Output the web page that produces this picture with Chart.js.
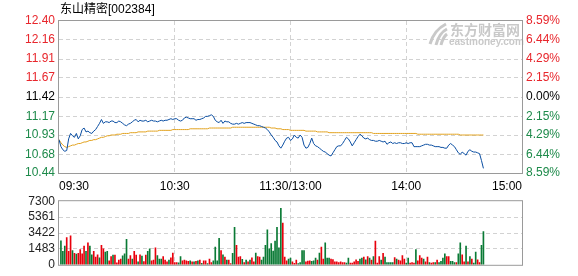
<!DOCTYPE html>
<html>
<head>
<meta charset="utf-8">
<script src="https://cdn.jsdelivr.net/npm/chart.js@4.4.0/dist/chart.umd.min.js"></script>
<style>
  html, body { margin: 0; padding: 0; background: #fff; }
  #wrap { position: relative; width: 578px; height: 276px; }
  #volBox { position: absolute; left: 0; top: 190px; }
  #priceBox { position: absolute; left: 0; top: 0; }
</style>
</head>
<body>
<div id="wrap">
  <div id="volBox"><canvas id="volCanvas" width="578" height="86"></canvas></div>
  <div id="priceBox"><canvas id="priceCanvas" width="578" height="200"></canvas></div>
</div>
<script>
const title = "东山精密[002384]";
const prevClose = 11.42;

// minutes since 09:30 (lunch break removed)
const timeTicks = [0, 60, 120, 180, 240];
const timeLabels = ["09:30", "10:30", "11:30/13:00", "14:00", "15:00"];

const priceTicks = [10.44, 10.68, 10.93, 11.17, 11.42, 11.67, 11.91, 12.16, 12.40];
const pctLabels = ["8.59%", "6.44%", "4.29%", "2.15%", "0.00%", "2.15%", "4.29%", "6.44%", "8.59%"];

const volTicks = [0, 1825, 3650, 5475, 7300];
const volLabels = ["0", "1483", "3422", "5361", "7300"];

// price per minute, from 09:30
const price = [
  10.87, 10.78, 10.74, 10.72, 10.73, 10.88, 10.95, 10.92, 10.90, 10.95,
  10.88, 10.92, 11.00, 11.02, 10.97, 10.98, 10.96, 10.95, 10.98, 11.00,
  11.04, 11.08, 11.13, 11.08, 11.10, 11.10, 11.09, 11.11, 11.11, 11.09,
  11.09, 11.11, 11.10, 11.08, 11.06, 11.05, 11.07, 11.08, 11.10, 11.12,
  11.13, 11.10, 11.12, 11.11, 11.11, 11.12, 11.10, 11.11, 11.12, 11.11,
  11.11, 11.10, 11.11, 11.12, 11.11, 11.12, 11.12, 11.13, 11.14, 11.13,
  11.14, 11.14, 11.12, 11.11, 11.12, 11.15, 11.16, 11.15, 11.14, 11.14,
  11.14, 11.12, 11.13, 11.13, 11.14, 11.15, 11.17, 11.17, 11.18, 11.19,
  11.17, 11.12, 11.10, 11.09, 11.12, 11.08, 11.11, 11.10, 11.10, 11.08,
  11.07, 11.07, 11.08, 11.07, 11.08, 11.09, 11.08, 11.09, 11.09, 11.09,
  11.08, 11.07, 11.06, 11.05, 11.05, 11.04, 11.03, 11.02, 11.00, 10.97,
  10.93, 10.90, 10.86, 10.84, 10.79, 10.76, 10.80, 10.85, 10.89, 10.90,
  10.86, 10.88, 10.93, 10.90, 10.89, 10.93, 10.90, 10.80, 10.76, 10.77,
  10.82, 10.89, 10.82, 10.79, 10.78, 10.76, 10.74, 10.72, 10.71, 10.69,
  10.67, 10.66, 10.70, 10.74, 10.78, 10.79, 10.79, 10.82, 10.86, 10.90,
  10.88, 10.84, 10.79, 10.83, 10.87, 10.91, 10.94, 10.92, 10.89, 10.88,
  10.89, 10.87, 10.86, 10.86, 10.85, 10.85, 10.86, 10.85, 10.84, 10.85,
  10.81, 10.83, 10.84, 10.82, 10.83, 10.82, 10.83, 10.83, 10.82, 10.82,
  10.83, 10.82, 10.83, 10.83, 10.78, 10.78, 10.78, 10.78, 10.79, 10.80,
  10.81, 10.81, 10.80, 10.80, 10.79, 10.78, 10.78, 10.78, 10.77, 10.77,
  10.76, 10.76, 10.80, 10.82, 10.80, 10.78, 10.74, 10.70, 10.68, 10.71,
  10.69, 10.67, 10.72, 10.74, 10.72, 10.71, 10.71, 10.70, 10.69, 10.60, 10.50
];

// average price per minute
const avgPrice = [
  10.87, 10.83, 10.80, 10.78, 10.77, 10.78, 10.79, 10.80, 10.80, 10.81,
  10.82, 10.82, 10.83, 10.84, 10.84, 10.85, 10.86, 10.86, 10.87, 10.87,
  10.88, 10.89, 10.90, 10.90, 10.91, 10.92, 10.92, 10.93, 10.93, 10.93,
  10.94, 10.94, 10.94, 10.95, 10.95, 10.95, 10.95, 10.96, 10.96, 10.96,
  10.96, 10.97, 10.97, 10.97, 10.97, 10.97, 10.98, 10.98, 10.98, 10.98,
  10.98, 10.98, 10.99, 10.99, 10.99, 10.99, 10.99, 10.99, 10.99, 11.00,
  11.00, 11.00, 11.00, 11.00, 11.00, 11.00, 11.00, 11.00, 11.01, 11.01,
  11.01, 11.01, 11.01, 11.01, 11.01, 11.01, 11.01, 11.01, 11.02, 11.02,
  11.02, 11.02, 11.02, 11.02, 11.02, 11.02, 11.02, 11.02, 11.02, 11.02,
  11.03, 11.03, 11.03, 11.03, 11.03, 11.03, 11.03, 11.03, 11.03, 11.03,
  11.03, 11.03, 11.03, 11.03, 11.03, 11.03, 11.03, 11.03, 11.03, 11.03,
  11.02, 11.02, 11.02, 11.01, 11.01, 11.01, 11.00, 11.00, 11.00, 11.00,
  10.99, 10.99, 10.99, 10.99, 10.99, 10.99, 10.99, 10.99, 10.98, 10.98,
  10.98, 10.98, 10.98, 10.98, 10.97, 10.97, 10.97, 10.97, 10.97, 10.97,
  10.96, 10.96, 10.96, 10.96, 10.96, 10.96, 10.96, 10.96, 10.96, 10.96,
  10.96, 10.96, 10.96, 10.96, 10.96, 10.96, 10.96, 10.96, 10.96, 10.96,
  10.96, 10.96, 10.96, 10.95, 10.95, 10.95, 10.95, 10.95, 10.95, 10.95,
  10.95, 10.95, 10.95, 10.95, 10.95, 10.95, 10.95, 10.95, 10.95, 10.95,
  10.95, 10.95, 10.95, 10.95, 10.95, 10.95, 10.94, 10.94, 10.94, 10.94,
  10.94, 10.94, 10.94, 10.94, 10.94, 10.94, 10.94, 10.94, 10.94, 10.94,
  10.94, 10.94, 10.94, 10.94, 10.94, 10.94, 10.94, 10.94, 10.93, 10.93,
  10.93, 10.93, 10.93, 10.93, 10.93, 10.93, 10.93, 10.93, 10.93, 10.93, 10.93
];

// volume per minute, from 09:31
const volume = [
  2760, 1550, 2140, 3125, 1550, 3320, 1645, 1316, 1217, 1316,
  1744, 1250, 2140, 1550, 2530, 2140, 1150, 1550, 890, 1150,
  790, 2240, 1840, 1450, 1550, 460, 950, 1120, 1120, 230,
  530, 660, 1020, 1250, 2930, 660, 1050, 660, 1550, 1120,
  330, 1150, 990, 360, 1120, 1550, 1840, 460, 530, 1940,
  1050, 660, 660, 950, 530, 330, 530, 790, 1350, 260,
  260, 230, 950, 460, 530, 460, 395, 460, 330, 330,
  395, 460, 530, 165, 460, 460, 130, 660, 260, 460,
  2040, 460, 3030, 1645, 1150, 890, 530, 530, 130, 1316,
  4310, 2240, 890, 950, 625, 260, 530, 330, 530, 790,
  330, 1350, 950, 890, 530, 890, 2240, 4010, 1840, 2430,
  1580, 2730, 4310, 1940, 6480, 4800, 890, 460, 660, 760,
  330, 165, 530, 130, 260, 1645, 1645, 330, 430, 460,
  395, 460, 760, 530, 1350, 2040, 660, 2530, 760, 760,
  660, 590, 330, 330, 260, 330, 260, 260, 200, 760,
  200, 200, 330, 560, 395, 660, 760, 890, 560, 950,
  760, 530, 950, 2730, 200, 950, 530, 1316, 890, 260,
  260, 260, 260, 820, 660, 530, 460, 1050, 660, 200,
  760, 200, 260, 200, 1740, 460, 1050, 760, 660, 330,
  890, 260, 200, 260, 260, 530, 260, 395, 760, 1250,
  950, 950, 395, 395, 260, 260, 1250, 2530, 1150, 330,
  2140, 330, 950, 660, 200, 1450, 560, 260, 2240, 3820
];
// bar colour per minute: r = up (red), g = down (green)
const volDir = [
  "gggrrrgrgr", "rrrgrggrrr", "grrggrrgrr", "rrgggrrgrr", "grgrrggrrr",
  "gggrrrgrrr", "rggrrrrgrg", "rgrgrrgrrg", "gggrgrgrrg", "grrrgrgrgr",
  "rgrrgggggg", "gggggrrrgg", "rrrggggrrr", "gggrgrrggg", "rrrrrrrrgg",
  "rrrrrggrgr", "grgrrrgrgg", "gggrgrrrrg", "grrrgrrrgr", "rgrrgrgggg",
  "rrgggrggrr", "grgrggrrgg"
].join("");

const RED = "#e8262c";
const GREEN = "#1d8a4a";
const UPBAR = "#e8000c";
const DOWNBAR = "#0a7a35";
const GRID = "#d2d2d2";
const FRAME = "#9a9a9a";

Chart.defaults.font.family = "'Liberation Sans', Arial, 'Noto Sans CJK SC', sans-serif";
Chart.defaults.font.size = 12;

const framePlugin = {
  id: "frame",
  afterDraw(chart) {
    const { ctx, chartArea: a } = chart;
    ctx.save();
    ctx.strokeStyle = FRAME;
    ctx.lineWidth = 1;
    ctx.strokeRect(a.left - 0.5, a.top - 0.5, a.right - a.left + 1, a.bottom - a.top + 1);
    ctx.restore();
  }
};

const titlePlugin = {
  id: "titleText",
  beforeDatasetsDraw(chart) {
    const ctx = chart.ctx;
    ctx.save();
    // watermark
    ctx.fillStyle = "#c9c9c9";
    ctx.strokeStyle = "#c9c9c9";
    ctx.lineWidth = 3;
    ctx.beginPath();
    ctx.moveTo(430, 44); ctx.quadraticCurveTo(434, 30, 446, 24);
    ctx.moveTo(436, 45); ctx.quadraticCurveTo(439, 33, 447, 29);
    ctx.moveTo(441, 45); ctx.quadraticCurveTo(443, 37, 447, 34);
    ctx.stroke();
    ctx.textBaseline = "middle";
    ctx.font = "bold 14px 'Noto Sans CJK SC', sans-serif";
    ctx.fillText("东方财富网", 450, 30);
    ctx.font = "bold 10px 'Liberation Sans', Arial, sans-serif";
    ctx.fillText("eastmoney.com", 449, 42);
    // title
    ctx.fillStyle = "#000";
    ctx.font = "12px 'Liberation Sans', 'Noto Sans CJK SC', sans-serif";
    ctx.fillText(title, 60, 10);
    ctx.restore();
  }
};

function edgeGrid(ticks) {
  return (ctx) => {
    if (!ctx.tick) return GRID;
    const v = ctx.tick.value;
    return (v === ticks[0] || v === ticks[ticks.length - 1]) ? "rgba(0,0,0,0)" : GRID;
  };
}

function tickColor(ctx) {
  const v = priceTicks[ctx.index];
  if (v > prevClose) return RED;
  if (v < prevClose) return GREEN;
  return "#000";
}

new Chart(document.getElementById("priceCanvas"), {
  type: "line",
  data: {
    datasets: [
      {
        data: price.map((v, i) => ({ x: i, y: v })),
        borderColor: "#0a4ea2",
        borderWidth: 1,
        pointRadius: 0,
        tension: 0
      },
      {
        data: avgPrice.map((v, i) => ({ x: i, y: v })),
        borderColor: "#e2a21e",
        borderWidth: 1,
        pointRadius: 0,
        tension: 0
      }
    ]
  },
  options: {
    responsive: false,
    animation: false,
    devicePixelRatio: 1,
    layout: { padding: { top: 21, left: 0, right: 0, bottom: 0 } },
    plugins: { legend: { display: false }, tooltip: { enabled: false } },
    scales: {
      x: {
        type: "linear",
        min: 0,
        max: 240,
        afterBuildTicks: (s) => { s.ticks = timeTicks.map((v) => ({ value: v })); },
        afterFit: (s) => { s.height = 27; },
        ticks: {
          callback: (v, i) => timeLabels[i],
          align: "inner",
          maxRotation: 0,
          autoSkip: false,
          color: "#000",
          padding: 6
        },
        grid: { color: edgeGrid(timeTicks), drawTicks: false },
        border: { display: false, dash: [4, 3] }
      },
      y: {
        type: "linear",
        position: "left",
        min: 10.44,
        max: 12.40,
        afterBuildTicks: (s) => { s.ticks = priceTicks.map((v) => ({ value: v })); },
        afterFit: (s) => { s.width = 59; },
        ticks: {
          callback: (v, i) => priceTicks[i].toFixed(2),
          color: tickColor,
          autoSkip: false,
          padding: 4
        },
        grid: { color: edgeGrid(priceTicks), drawTicks: false },
        border: { display: false, dash: [4, 3] }
      },
      y1: {
        type: "linear",
        position: "right",
        min: 10.44,
        max: 12.40,
        afterBuildTicks: (s) => { s.ticks = priceTicks.map((v) => ({ value: v })); },
        afterFit: (s) => { s.width = 56; },
        ticks: {
          callback: (v, i) => pctLabels[i],
          color: tickColor,
          autoSkip: false,
          padding: 4
        },
        grid: { display: false, drawTicks: false },
        border: { display: false }
      }
    }
  },
  plugins: [titlePlugin, framePlugin]
});

new Chart(document.getElementById("volCanvas"), {
  type: "bar",
  data: {
    datasets: [
      {
        data: volume.map((v, i) => ({ x: i + 1, y: v })),
        backgroundColor: volume.map((v, i) => (volDir[i] === "r" ? UPBAR : DOWNBAR)),
        barThickness: 1,
        borderWidth: 0
      }
    ]
  },
  options: {
    responsive: false,
    animation: false,
    devicePixelRatio: 1,
    layout: { padding: { top: 7, left: 0, right: 56, bottom: 5 } },
    plugins: { legend: { display: false }, tooltip: { enabled: false } },
    scales: {
      x: {
        type: "linear",
        min: 0,
        max: 240,
        offset: false,
        afterBuildTicks: (s) => { s.ticks = timeTicks.map((v) => ({ value: v })); },
        afterFit: (s) => { s.height = 0; },
        ticks: { display: false },
        grid: { color: edgeGrid(timeTicks), drawTicks: false, offset: false },
        border: { display: false, dash: [4, 3] }
      },
      y: {
        type: "linear",
        min: 0,
        max: 7300,
        afterBuildTicks: (s) => { s.ticks = volTicks.map((v) => ({ value: v })); },
        afterFit: (s) => { s.width = 59; },
        ticks: {
          callback: (v, i) => volLabels[i],
          color: "#222",
          autoSkip: false,
          padding: 4
        },
        grid: { color: edgeGrid(volTicks), drawTicks: false },
        border: { display: false, dash: [4, 3] }
      }
    }
  },
  plugins: [framePlugin]
});
</script>
</body>
</html>
